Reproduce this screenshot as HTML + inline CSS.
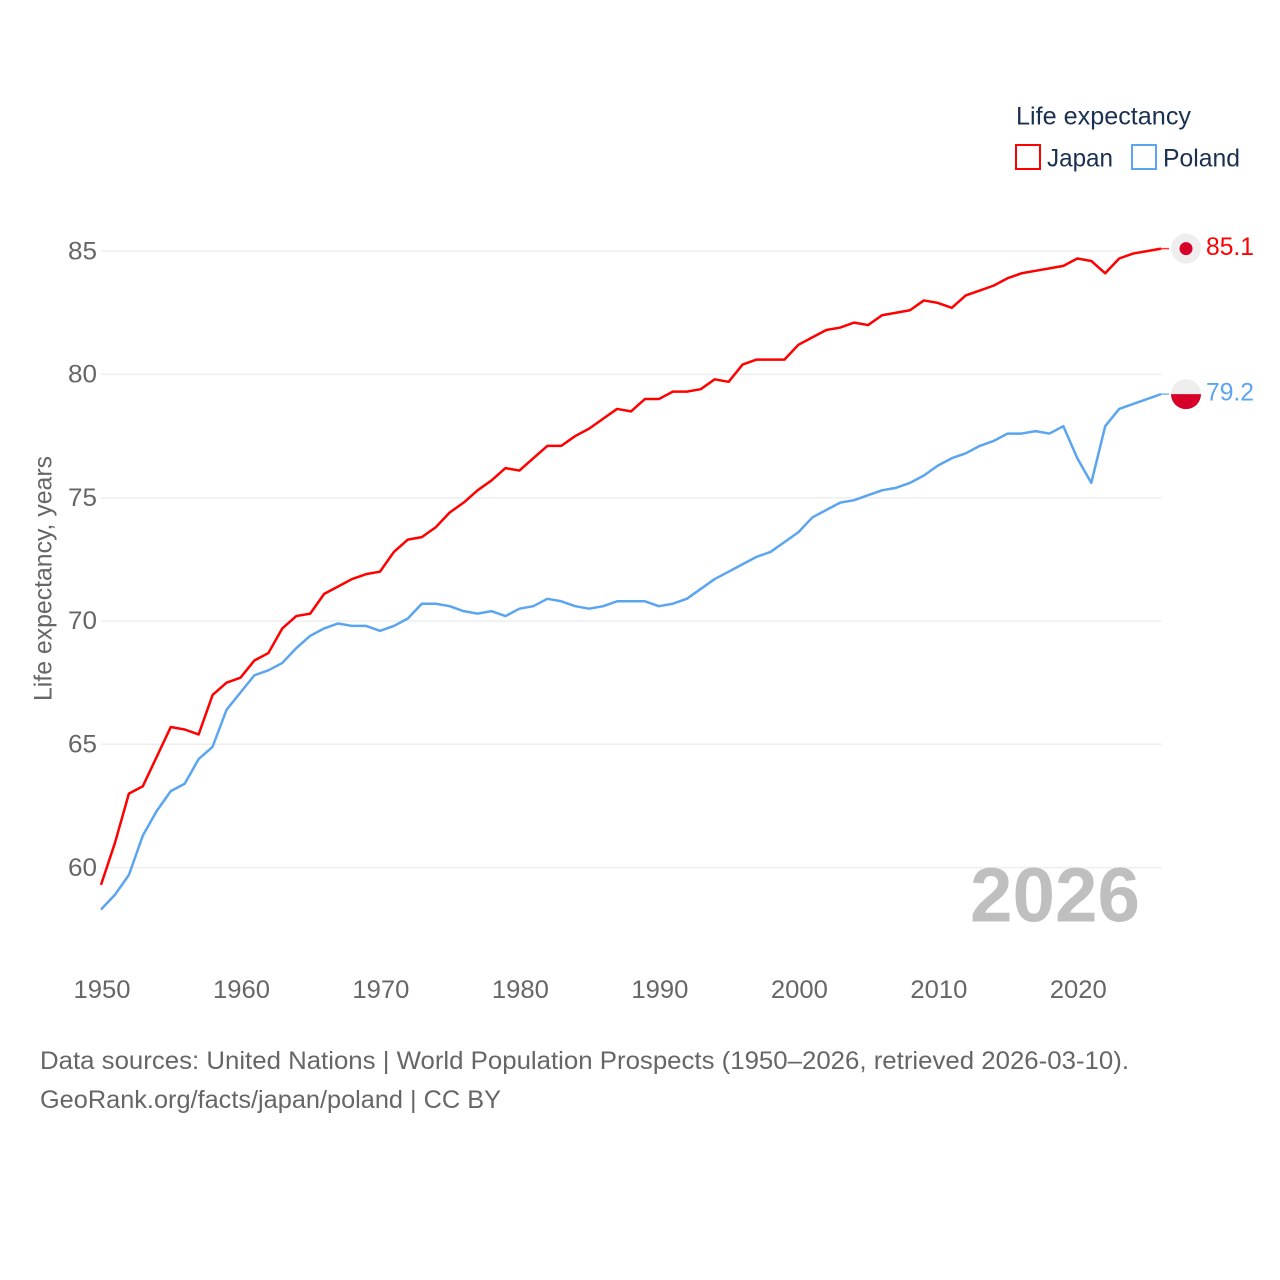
<!DOCTYPE html>
<html lang="en">
<head>
<meta charset="utf-8">
<title>Life expectancy: Japan and Poland</title>
<style>
html,body{margin:0;padding:0;background:#fff;}
svg{display:block;font-family:"Liberation Sans",sans-serif;}
</style>
</head>
<body>
<svg id="chart" xmlns="http://www.w3.org/2000/svg" width="1280" height="1280" viewBox="0 0 1280 1280">
  <rect x="0" y="0" width="1280" height="1280" fill="#fff"/>
  <g id="grid"></g>
  <g id="yticks"></g>
  <g id="xticks"></g>
  <text transform="translate(51.5,578.5) rotate(-90)" text-anchor="middle" font-size="25" fill="#666" textLength="245" lengthAdjust="spacingAndGlyphs">Life expectancy, years</text>
  <text x="970" y="921.5" font-size="77" font-weight="700" fill="#bfbfbf" textLength="170" lengthAdjust="spacingAndGlyphs">2026</text>
  <g id="series"></g>
  <g id="ends"></g>
  <g fill="#1a3050" font-size="25">
    <text x="1016" y="124.5" textLength="175" lengthAdjust="spacingAndGlyphs">Life expectancy</text>
    <rect x="1016" y="145" width="24" height="24" fill="#fff" stroke="#ff0000" stroke-width="2"/>
    <text x="1047" y="166.5" textLength="66" lengthAdjust="spacingAndGlyphs">Japan</text>
    <rect x="1132" y="145" width="24" height="24" fill="#fff" stroke="#5ba5f0" stroke-width="2"/>
    <text x="1163" y="166.5" textLength="77" lengthAdjust="spacingAndGlyphs">Poland</text>
  </g>
  <g fill="#666" font-size="25">
    <text x="40" y="1069" textLength="1089" lengthAdjust="spacingAndGlyphs">Data sources: United Nations | World Population Prospects (1950–2026, retrieved 2026-03-10).</text>
    <text x="40" y="1108" textLength="461" lengthAdjust="spacingAndGlyphs">GeoRank.org/facts/japan/poland | CC BY</text>
  </g>
</svg>
<script>
const startYear = 1950;
const xTickYears = [1950, 1960, 1970, 1980, 1990, 2000, 2010, 2020];
const yTickValues = [60, 65, 70, 75, 80, 85];
const japanValues = [59.3,61.0,63.0,63.3,64.5,65.7,65.6,65.4,67.0,67.5,67.7,68.4,68.7,69.7,70.2,70.3,71.1,71.4,71.7,71.9,72.0,72.8,73.3,73.4,73.8,74.4,74.8,75.3,75.7,76.2,76.1,76.6,77.1,77.1,77.5,77.8,78.2,78.6,78.5,79.0,79.0,79.3,79.3,79.4,79.8,79.7,80.4,80.6,80.6,80.6,81.2,81.5,81.8,81.9,82.1,82.0,82.4,82.5,82.6,83.0,82.9,82.7,83.2,83.4,83.6,83.9,84.1,84.2,84.3,84.4,84.7,84.6,84.1,84.7,84.9,85.0,85.1];
const polandValues = [58.3,58.9,59.7,61.3,62.3,63.1,63.4,64.4,64.9,66.4,67.1,67.8,68.0,68.3,68.9,69.4,69.7,69.9,69.8,69.8,69.6,69.8,70.1,70.7,70.7,70.6,70.4,70.3,70.4,70.2,70.5,70.6,70.9,70.8,70.6,70.5,70.6,70.8,70.8,70.8,70.6,70.7,70.9,71.3,71.7,72.0,72.3,72.6,72.8,73.2,73.6,74.2,74.5,74.8,74.9,75.1,75.3,75.4,75.6,75.9,76.3,76.6,76.8,77.1,77.3,77.6,77.6,77.7,77.6,77.9,76.6,75.6,77.9,78.6,78.8,79.0,79.2];

const NS = 'http://www.w3.org/2000/svg';
function xScale(year) { return 101 + (year - 1950) * (1060 / 76); }
function yScale(v) { return 867.6 - (v - 60) * (616.5 / 25); }
function mk(tag, attrs, parent) {
  const el = document.createElementNS(NS, tag);
  for (const k in attrs) el.setAttribute(k, attrs[k]);
  parent.appendChild(el);
  return el;
}

const gridG = document.getElementById('grid');
const yG = document.getElementById('yticks');
yTickValues.forEach(function (v) {
  const line = mk('line', {x1: 101, x2: 1161.5, y1: yScale(v), y2: yScale(v), stroke: '#eeeeee', 'stroke-width': 1.5}, gridG);
  
  
  const t = mk('text', {x: 97, y: yScale(v) + 8.2, 'text-anchor': 'end', 'font-size': 25, fill: '#666', textLength: 29, lengthAdjust: 'spacingAndGlyphs'}, yG);
  
  
  t.textContent = v;
});

const xG = document.getElementById('xticks');
xTickYears.forEach(function (yr) {
  const t = mk('text', {x: xScale(yr) + 1, y: 998, 'text-anchor': 'middle', 'font-size': 25, fill: '#666', textLength: 57, lengthAdjust: 'spacingAndGlyphs'}, xG);
  
  
  t.textContent = yr;
});

function pathFor(values) {
  return values.map(function (v, i) {
    return (i ? 'L' : 'M') + xScale(startYear + i).toFixed(2) + ' ' + yScale(v).toFixed(2);
  }).join(' ');
}

const seriesG = document.getElementById('series');
const japanLine = mk('path', {d: pathFor(japanValues), fill: 'none', stroke: '#ff0000', 'stroke-width': 2.5, 'stroke-linejoin': 'round'}, seriesG);


const polandLine = mk('path', {d: pathFor(polandValues), fill: 'none', stroke: '#5ba5f0', 'stroke-width': 2.5, 'stroke-linejoin': 'round'}, seriesG);



const endsG = document.getElementById('ends');
const lastYear = startYear + japanValues.length - 1;
const endX = xScale(lastYear);
const flagX = endX + 25;
const labelX = endX + 45;

const jy = yScale(japanValues[japanValues.length - 1]);
const jConn = mk('line', {x1: endX, x2: endX + 8, y1: jy, y2: jy, stroke: '#ff0000', 'stroke-width': 1.5, opacity: 0.8}, endsG);


const jBg = mk('circle', {cx: flagX, cy: jy, r: 15, fill: '#eeeeee'}, endsG);


const jDot = mk('circle', {cx: flagX, cy: jy, r: 6.5, fill: '#d7002a'}, endsG);


const jLabel = mk('text', {x: labelX, y: jy + 6.5, 'font-size': 25, fill: '#ff0000', textLength: 48, lengthAdjust: 'spacingAndGlyphs'}, endsG);


jLabel.textContent = japanValues[japanValues.length - 1].toFixed(1);

const py = yScale(polandValues[polandValues.length - 1]);
const pConn = mk('line', {x1: endX, x2: endX + 8, y1: py, y2: py, stroke: '#5ba5f0', 'stroke-width': 1.5, opacity: 0.8}, endsG);


const pTop = mk('path', {d: 'M' + (flagX - 15) + ' ' + py + ' A15 15 0 0 1 ' + (flagX + 15) + ' ' + py + ' Z', fill: '#eeeeee'}, endsG);


const pBot = mk('path', {d: 'M' + (flagX - 15) + ' ' + py + ' A15 15 0 0 0 ' + (flagX + 15) + ' ' + py + ' Z', fill: '#d7002a'}, endsG);


const pLabel = mk('text', {x: labelX, y: py + 6.5, 'font-size': 25, fill: '#5ba5f0', textLength: 48, lengthAdjust: 'spacingAndGlyphs'}, endsG);


pLabel.textContent = polandValues[polandValues.length - 1].toFixed(1);
</script>
</body>
</html>
